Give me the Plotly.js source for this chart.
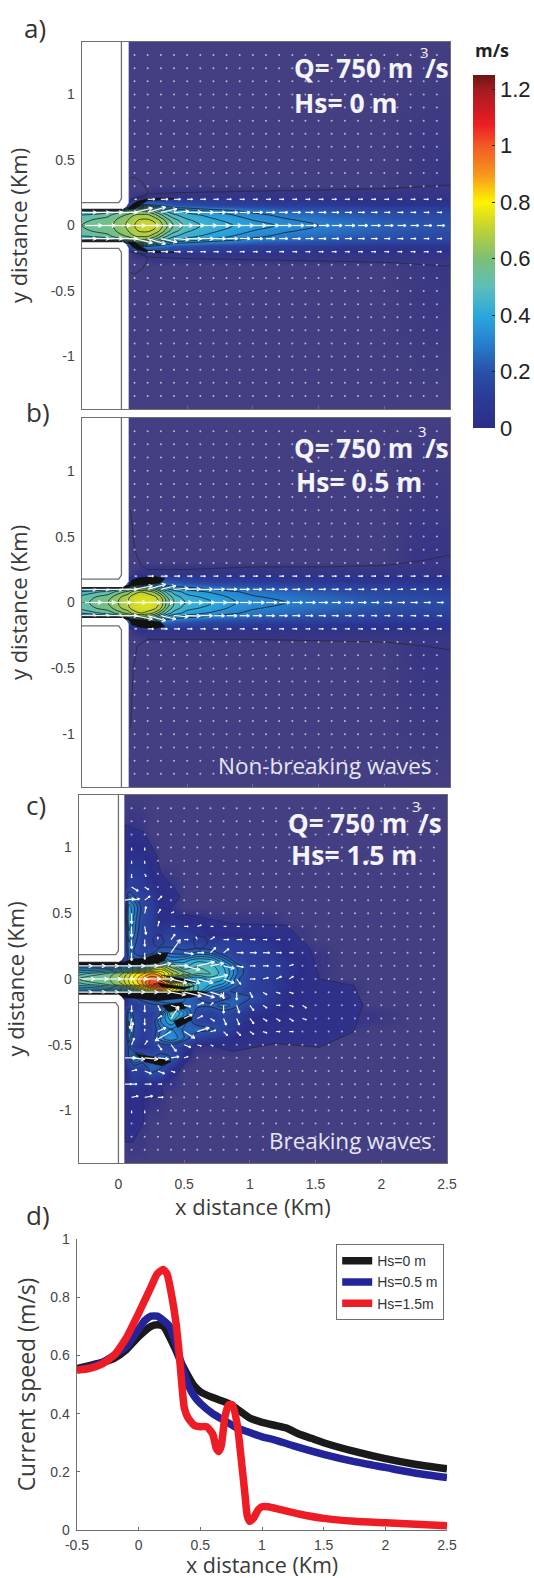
<!DOCTYPE html>
<html><head><meta charset="utf-8">
<script src="https://cdn.plot.ly/plotly-3.0.1.min.js"></script>
<style>html,body{margin:0;padding:0;background:#fff}</style></head>
<body><div id="chart"></div>
<script>
// ---------- panel d: current speed along the jet axis ----------
const blackX=[-.5,-.4,-.3,-.2,-.1,0,.1,.15,.2,.3,.35,.4,.45,.5,.6,.7,.75,.8,.9,1,1.1,1.2,1.3,1.4,1.5,1.75,2,2.25,2.5];
const blackY=[.555,.565,.575,.59,.62,.665,.70,.705,.70,.62,.57,.53,.495,.475,.455,.44,.43,.415,.385,.37,.36,.35,.33,.315,.30,.27,.245,.225,.21];
const blueX=[-.5,-.4,-.3,-.2,-.1,0,.05,.1,.15,.2,.25,.3,.35,.4,.45,.5,.6,.7,.8,.9,1,1.1,1.25,1.5,1.75,2,2.25,2.5];
const blueY=[.55,.56,.575,.60,.63,.69,.72,.735,.735,.72,.70,.64,.565,.50,.46,.435,.40,.375,.35,.335,.32,.31,.29,.26,.235,.215,.195,.18];
const redX=[-.5,-.4,-.3,-.2,-.1,0,.05,.1,.15,.2,.23,.27,.3,.33,.35,.37,.4,.45,.5,.55,.6,.63,.65,.67,.7,.73,.76,.8,.83,.86,.88,.9,.93,.97,1,1.05,1.15,1.3,1.5,1.75,2,2.5];
const redY=[.55,.555,.57,.60,.66,.745,.79,.835,.88,.895,.88,.80,.72,.60,.50,.42,.385,.36,.355,.355,.33,.28,.27,.29,.39,.43,.43,.36,.25,.13,.05,.03,.04,.07,.08,.08,.07,.055,.04,.03,.025,.015];
const legendNames=['Hs=0 m','Hs=0.5 m','Hs=1.5m'];

// ---------- speed fields (cm/s), grids in km ----------
const jetX=[-.3,-.1,.05,.1,.15,.2,.25,.3,.35,.4,.5,.6,.7,.85,1,1.25,1.5,1.75,2,2.25,2.5];
const jetHalfY=[0,.04,.08,.11,.13,.16,.2,.21,.27,.31,1.4];
const fieldA=[
[55,58,66,70,72,73,72,67,60,54,48,45,43,40,37,34,30,27,24,22,20],
[54,57,65,69,71,71,69,64,57,52,46,43,41,38,35,31,28,25,22,20,18],
[50,54,61,65,66,66,62,56,50,46,42,40,38,35,32,28,25,22,20,18,16],
[42,46,55,58,60,58,54,48,44,41,38,36,34,31,28,25,22,19,17,15,14],
[0,0,40,48,50,48,44,40,36,33,31,29,27,25,22,19,17,15,13,12,11],
[0,0,12,25,30,30,28,26,24,21,19,17,15,13,12,11,10,9,8,8,8],
[0,0,2,10,14,14,12,12,12,10,10,10,10,9,9,8,8,7,7,7,7],
[0,0,0,4,5,4,4,4,4,4,4,4,4,4,4,4,4,4,4,4,4],
[0,0,0,0,0,1,3,3,3,3,3,3,3,3,3,3,3,3,3,3,3],
[0,0,0,0,0,0,0,0,0,0,0,0,0,0,0,0,0,0,0,2,3],
[0,0,0,0,0,0,0,0,0,0,0,0,0,0,0,0,0,0,0,0,0]];
const fieldB=[
[53,60,70,74,75,75,74,68,58,50,44,42,40,36,33,30,27,24,21,19,17],
[52,58,69,73,74,74,72,66,55,48,42,40,38,34,31,28,25,22,19,17,15],
[46,52,62,68,70,68,64,56,48,43,38,36,34,31,28,25,22,19,16,14,12],
[34,40,50,55,58,56,52,44,38,35,32,30,28,25,23,20,17,15,13,12,11],
[0,0,30,40,44,44,40,34,30,27,25,23,21,19,17,15,14,12,11,10,9],
[0,0,8,20,28,28,26,22,20,18,15,13,12,11,10,9,9,8,8,8,8],
[0,0,2,8,10,11,10,9,9,9,9,9,9,8,8,8,8,8,7,7,7],
[0,0,0,4,5,4,4,4,4,4,4,4,4,4,4,4,4,4,4,4,4],
[0,0,0,0,1,3,3,3,3,3,3,3,3,3,3,3,3,3,3,3,3],
[0,0,0,0,0,0,0,0,0,0,0,0,0,0,0,0,0,0,0,3,3],
[0,0,0,0,0,0,0,0,0,0,0,0,0,0,0,0,0,0,0,0,0]];
const fieldCX=[-.3,-.1,.03,.08,.12,.18,.25,.32,.4,.5,.6,.7,.8,.9,1,1.15,1.3,1.5,1.7,1.9,2.2,2.5];
const fieldCY=[1.4,1.1,.9,.7,.55,.45,.35,.28,.2,.14,.09,.04,0,-.04,-.09,-.14,-.2,-.26,-.32,-.38,-.45,-.52,-.6,-.68,-.8,-.9,-1.1,-1.4];
const fieldC=[
[0,0,0,0,0,0,0,0,0,0,0,0,0,0,0,0,0,0,0,0,0,0],
[0,0,0,4,4,3,0,0,0,0,0,0,0,0,0,0,0,0,0,0,0,0],
[0,0,0,8,8,8,5,0,0,0,0,0,0,0,0,0,0,0,0,0,0,0],
[0,0,0,14,12,10,8,5,4,0,0,0,0,0,0,0,0,0,0,0,0,0],
[0,0,0,38,30,18,12,6,4,0,0,0,0,0,0,0,0,0,0,0,0,0],
[0,0,0,40,28,16,12,5,8,6,6,4,3,3,3,3,0,0,0,0,0,0],
[0,0,0,34,26,14,12,10,12,10,8,5,4,4,3,3,3,0,0,0,0,0],
[0,0,0,30,22,14,12,14,16,14,12,10,12,12,10,8,4,0,0,0,0,0],
[0,0,0,28,20,16,18,26,24,22,26,24,16,12,12,10,5,3,0,0,0,0],
[0,0,8,25,28,25,40,45,35,38,44,42,30,16,12,10,8,3,0,0,0,0],
[30,30,35,40,45,50,60,70,60,45,50,48,40,25,14,12,8,3,0,0,0,0],
[48,55,65,72,78,84,90,85,72,60,50,50,42,26,14,12,8,3,0,0,0,0],
[55,57,68,76,82,90,100,95,55,40,35,42,40,22,12,10,6,3,0,0,0,0],
[48,55,65,74,80,88,104,108,90,60,45,40,34,22,13,11,7,3,3,0,0,0],
[30,30,35,42,50,60,75,85,75,60,45,30,22,18,12,10,6,4,3,0,0,0],
[0,0,0,8,20,25,30,32,28,26,20,14,16,24,20,10,6,4,3,0,0,0],
[0,0,0,14,10,14,18,20,24,24,22,22,28,22,12,8,5,3,3,0,0,0],
[0,0,0,28,16,12,12,20,50,35,16,12,16,12,8,6,4,3,3,3,0,0],
[0,0,0,30,20,12,14,30,40,28,14,12,16,10,6,4,3,3,3,3,0,0],
[0,0,0,32,20,10,14,25,30,24,25,22,14,8,5,3,3,3,3,0,0,0],
[0,0,0,28,16,10,14,28,35,25,12,10,8,5,3,3,3,3,0,0,0,0],
[0,0,0,22,10,8,10,14,14,8,3,3,3,3,0,0,0,0,0,0,0,0],
[0,0,0,20,35,28,20,24,20,6,0,0,0,0,0,0,0,0,0,0,0,0],
[0,0,0,10,14,12,25,20,8,0,0,0,0,0,0,0,0,0,0,0,0,0],
[0,0,0,8,10,7,5,4,3,0,0,0,0,0,0,0,0,0,0,0,0,0],
[0,0,0,5,5,6,4,3,0,0,0,0,0,0,0,0,0,0,0,0,0,0],
[0,0,0,4,3,3,0,0,0,0,0,0,0,0,0,0,0,0,0,0,0,0],
[0,0,0,0,0,0,0,0,0,0,0,0,0,0,0,0,0,0,0,0,0,0]];

// ---------- velocity vectors ----------
const dotX=[.1,.2,.3,.4,.5,.6,.7,.8,.9,1,1.1,1.2,1.3,1.4,1.5,1.6,1.7,1.8,1.9,2,2.1,2.2,2.3,2.4];
const dotY=[1.3,1.2,1.1,1,.9,.8,.7,.6,.5,.4,.3,.2,.1,0,-.1,-.2,-.3,-.4,-.5,-.6,-.7,-.8,-.9,-1,-1.1,-1.2,-1.3];
const jetArrowX=[-.3,-.2,-.1,0,.1,.2,.3,.4,.5,.6,.7,.8,.9,1,1.1,1.2,1.3,1.4,1.5,1.6,1.7,1.8,1.9,2,2.1,2.2,2.3,2.4];
const axisSpeedA=[.56,.57,.62,.67,.7,.7,.62,.53,.475,.455,.44,.415,.385,.37,.36,.35,.33,.315,.3,.29,.28,.27,.26,.25,.24,.23,.225,.22];
const midSpeedA=[.4,.4,.4,.45,.5,.5,.45,.42,.4,.37,.34,.31,.29,.27,.25,.24,.23,.22,.21,.2,.19,.18,.17,.16,.16,.15,.15,.14];
const midLiftA=[0,0,0,0,.12,.15,.1,.03,.01,0,0,0,0,0,0,0,0,0,0,0,0,0,0,0,0,0,0,0];
const edgeSpeedA=[0,0,0,0,.05,.2,.2,.18,.15,.15,.14,.13,.13,.13,.13,.13,.13,.13,.13,.13,.13,.13,.13,.13,.13,.13,.13,.13];
const axisSpeedB=[.55,.57,.63,.69,.73,.72,.64,.5,.435,.4,.375,.35,.335,.32,.31,.3,.29,.28,.26,.25,.24,.23,.22,.215,.205,.195,.19,.185];
const midSpeedB=[.4,.4,.4,.45,.5,.5,.42,.4,.37,.34,.31,.29,.27,.25,.24,.23,.22,.21,.2,.19,.18,.17,.16,.16,.15,.15,.14,.14];
const midLiftB=[0,0,0,0,.1,.14,.1,.03,.01,0,0,0,0,0,0,0,0,0,0,0,0,0,0,0,0,0,0,0];
const edgeSpeedB=[0,0,0,0,.05,.16,.18,.16,.14,.14,.13,.13,.13,.13,.13,.13,.13,.13,.13,.13,.13,.13,.13,.13,.13,.13,.13,.13];
// [x, y, dx, dy] in km for panel c
const arrowsC=[
[.05,.6,.07,.01],[.1,.6,.06,.01],[.2,.6,.04,.03],[.3,.6,.03,.03],[.1,.7,.05,-.03],[.2,.7,.03,-.02],[.1,.8,0,-.03],[.2,.8,.01,-.02],[.1,.9,0,-.02],[.2,.9,0,-.02],[.1,1,0,-.02],[.2,1,0,-.02],
[.1,.5,0,-.08],[.2,.5,.01,.05],[.3,.5,.02,.03],[.4,.5,.02,.01],
[.1,.4,0,-.08],[.2,.4,.01,-.06],[.3,.4,.01,.04],[.4,.4,.03,0],[.5,.4,.03,0],[.6,.4,.03,.01],[.7,.4,.02,0],[.8,.4,.02,0],[.9,.4,.02,0],
[.1,.3,0,-.07],[.2,.3,0,-.05],[.3,.3,0,.02],[.4,.3,.03,.04],[.5,.3,.03,0],[.6,.3,-.01,.02],[.7,.3,.03,.02],[.8,.3,.04,0],[.9,.3,.04,0],[1,.3,.04,0],[1.1,.3,.03,0],[1.2,.3,.03,0],
[.1,.2,0,-.06],[.2,.2,0,-.05],[.3,.2,.02,-.01],[.4,.2,.07,.1],[.5,.2,.07,-.01],[.6,.2,.05,0],[.7,.2,.04,.04],[.8,.2,.04,.03],[.9,.2,.05,0],[1,.2,.05,0],[1.1,.2,.05,0],[1.2,.2,.04,0],[1.3,.2,.03,0],
[-.3,.1,.1,0],[-.2,.1,.1,0],[-.1,.1,.1,0],[0,.1,.1,0],[.1,.1,.1,0],[.2,.1,.1,0],[.3,.1,.1,.02],[.4,.1,.13,0],[.5,.1,.12,-.03],[.6,.1,.13,.03],[.7,.1,.1,.02],[.8,.1,.08,-.02],[.9,.1,.05,-.01],[1,.1,.04,0],[1.1,.1,.04,0],[1.2,.1,.03,0],[1.3,.1,.03,.01],
[-.3,0,.12,0],[-.2,0,.12,0],[-.1,0,.12,0],[0,0,.12,0],[.1,0,.12,0],[.2,0,.12,0],[.3,0,.12,0],[.4,0,.12,-.03],[.5,0,.12,-.03],[.6,0,.12,-.03],[.7,0,.13,.03],[.8,0,.08,-.03],[.9,0,.03,-.04],[1,0,.04,0],[1.1,0,.04,.01],[1.2,0,.04,.02],[1.3,0,.03,.02],
[-.3,-.1,.1,0],[-.2,-.1,.1,0],[-.1,-.1,.1,0],[0,-.1,.1,0],[.1,-.1,.1,0],[.2,-.1,.1,0],[.3,-.1,.1,0],[.4,-.1,.11,-.02],[.5,-.1,.13,-.03],[.6,-.1,.13,-.04],[.7,-.1,.1,-.03],[.8,-.1,0,-.05],[.9,-.1,0,-.06],[1,-.1,.02,-.04],[1.1,-.1,.03,-.02],[1.2,-.1,.03,-.01],[1.3,-.1,.03,-.01],
[.1,-.2,0,-.05],[.2,-.2,0,-.05],[.3,-.2,.02,-.04],[.4,-.2,.06,-.02],[.5,-.2,.05,-.01],[.6,-.2,.05,.02],[.7,-.2,.02,.02],[.8,-.2,0,-.06],[.9,-.2,.02,-.06],[1,-.2,.03,-.04],[1.1,-.2,.03,-.02],[1.2,-.2,.03,0],[1.3,-.2,.03,-.01],[1.4,-.2,.03,-.02],
[.1,-.3,-.01,-.08],[.2,-.3,0,-.05],[.3,-.3,.03,.02],[.4,-.3,.06,.09],[.5,-.3,.06,.03],[.6,-.3,.04,.02],[.7,-.3,.03,-.02],[.8,-.3,.02,-.05],[.9,-.3,.02,-.05],[1,-.3,.03,-.04],[1.1,-.3,.03,-.02],[1.2,-.3,.03,-.02],[1.3,-.3,.03,-.02],[1.4,-.3,.03,-.01],
[.1,-.4,.01,.07],[.2,-.4,0,.02],[.3,-.4,.06,.03],[.4,-.4,-.12,-.07],[.5,-.4,.08,-.05],[.6,-.4,.09,.03],[.7,-.4,.04,.01],[.8,-.4,.03,-.03],[.9,-.4,.03,-.03],[1,-.4,.03,-.02],[1.1,-.4,.03,-.01],[1.2,-.4,.03,0],[1.3,-.4,.03,0],
[.1,-.5,.02,.05],[.2,-.5,.02,.03],[.3,-.5,.03,-.04],[.4,-.5,.04,-.05],[.5,-.5,.05,-.02],[.6,-.5,.03,-.01],[.7,-.5,.02,-.01],
[.05,-.6,.08,0],[.1,-.6,.1,-.01],[.2,-.6,.1,-.01],[.3,-.6,.08,-.01],[.4,-.6,.06,.01],[.5,-.6,.03,.01],
[.1,-.7,.04,.01],[.2,-.7,.05,-.02],[.3,-.7,.05,-.02],[.4,-.7,.03,-.01],
[.05,-.8,.05,0],[.1,-.8,.04,0],[.2,-.8,.05,0],[.3,-.8,.03,0],
[.1,-.9,.05,.01],[.2,-.9,.06,.01],[.3,-.9,.04,0],[.1,-1,0,-.02],[.2,-1,0,-.02]];

// ---------- contour outlines (km) ----------
const outlineAX=[.07,.1,.16,.2,.18,.1,.07,.2,.4,1,2,2.5];
const outlineAY=[.36,.37,.33,.26,.22,.2,.2,.24,.25,.26,.28,.31];
const outlineBupX=[.07,.1,.15,.2,.5,1,1.5,2,2.3,2.5];
const outlineBupY=[.7,.4,.28,.25,.25,.27,.27,.28,.32,.36];
const outlineBloX=[.07,.09,.12,.2,.5,1,1.5,2,2.3,2.5];
const outlineBloY=[-.95,-.5,-.33,-.28,-.28,-.28,-.29,-.3,-.33,-.36];
const outlineCX=[.05,.06,.19,.29,.32,.47,.34,.52,.87,1.28,1.46,1.53,1.79,1.86,1.79,1.53,1.2,.87,.67,.55,.55,.44,.32,.34,.19,.19,.11,.05];
const outlineCY=[1.17,1.17,1.12,.94,.81,.63,.46,.49,.42,.41,.23,0,-.05,-.2,-.4,-.52,-.49,-.55,-.5,-.5,-.58,-.73,-.76,-.89,-.91,-1.09,-1.24,-1.24];
const loopC=[[[.3,.35,.33,.29,.26,.27,.3],[.24,.28,.33,.34,.31,.26,.24]],[[.62,.68,.66,.6,.57,.58,.62],[.22,.27,.32,.33,.3,.25,.22]]];
// saturated (black) contour bunches
const blackA=[[.05,.08,.12,.2,.3,.42,.3,.2,.15,.1],[.125,.16,.185,.205,.21,.205,.195,.19,.16,.125]];
const blackB=[[.05,.08,.14,.25,.33,.3,.2,.1],[.125,.17,.19,.2,.18,.15,.135,.125]];
const blackC=[
[[-.3,.05,.1,.2,.3,.38,.35,.3,.2,.05,-.3],[.125,.13,.15,.16,.19,.2,.14,.12,.11,.105,.105]],
[[-.3,.1,.3,.6,.68,.55,.3,.1,-.3],[-.105,-.11,-.1,-.09,-.1,-.14,-.165,-.145,-.125]],
[[.3,.5,.58,.5,.33],[-.03,-.06,-.05,-.08,-.06]],
[[.33,.5,.6,.5],[.03,-.02,-.03,0]],
[[.33,.48,.52,.38],[-.2,-.18,-.22,-.25]],
[[.42,.55,.56,.45],[-.32,-.27,-.31,-.37]],
[[.13,.3,.4,.33,.2],[-.57,-.6,-.63,-.66,-.63]]];
// land / river mouth geometry: upper outer line, upper channel line, lower channel line, lower outer line
const mouthA={up:.175,chUp:.122,chLo:-.122,lo:-.175};
const mouthB={up:.178,chUp:.112,chLo:-.112,lo:-.178};
const mouthC={up:.185,chUp:.125,chLo:-.115,lo:-.18};

// ---------- layout constants ----------
const W=534,H=1578;
const boxes={a:[82,450,42,409],b:[82,450,418,787],c:[79,447,795,1163],d:[77,447,1239,1530]};
const yTicks=[-1,-.5,0,.5,1], xTicks=[0,.5,1,1.5,2,2.5];
const bg='#443f82', grey='#6f6f6f', txt='#3a3a3a';
const stops=[[0,'#2b2e88'],[.08,'#2b3a96'],[.16,'#2a50a8'],[.24,'#2680cf'],[.32,'#2aa8dc'],[.4,'#5cbfb8'],[.48,'#7cbf78'],[.56,'#bcd136'],[.64,'#fff200'],[.72,'#f7941d'],[.8,'#f15a24'],[.86,'#ed1c24'],[.96,'#a01c20'],[1,'#6d1414']];
const fieldScale=[[0,'rgba(43,46,136,0)'],[.048,'rgba(43,46,136,1)']].concat(stops.slice(1));

const mirror=(half)=>{const r=[];for(let i=half.length-1;i>0;i--)r.push(half[i]);return r.concat(half);};
const mirrorY=jetHalfY.slice(1).reverse().map(v=>-v).concat(jetHalfY);
const cm=(rows)=>rows.map(r=>r.map(v=>v/100));

function arrowInto(xs,ys,x,y,dx,dy){
  const L=Math.hypot(dx,dy); if(L<1e-6)return;
  const tx=x+dx,ty=y+dy,h=Math.min(.03,.3*L),a=Math.atan2(dy,dx);
  xs.push(x,tx,null,tx-h*Math.cos(a-.5),tx,tx-h*Math.cos(a+.5),null);
  ys.push(y,ty,null,ty-h*Math.sin(a-.5),ty,ty-h*Math.sin(a+.5),null);
}
const traces=[],shapes=[],annos=[];
const pathOf=(X,Y,close)=>X.map((v,i)=>(i?'L':'M')+v+','+Y[i]).join(' ')+(close?' Z':'');

function fieldTraces(ax,ay,gx,gy,z,start,w){
  traces.push({type:'heatmap',x:gx,y:gy,z:z,xaxis:ax,yaxis:ay,zmin:0,zmax:1.25,zsmooth:'best',colorscale:fieldScale,showscale:false,hoverinfo:'skip'});
  traces.push({type:'contour',x:gx,y:gy,z:z,xaxis:ax,yaxis:ay,showscale:false,showlegend:false,hoverinfo:'skip',autocontour:false,
    contours:{start:start,end:1.2,size:.05,coloring:'none'},line:{color:'#1c1c1c',width:w,smoothing:1}});
}
function outline(ax,ay,X,Y){traces.push({type:'scatter',mode:'lines',x:X,y:Y,xaxis:ax,yaxis:ay,line:{color:'#2a2a40',width:.9},showlegend:false,hoverinfo:'skip'});}
function patch(ax,ay,X,Y){traces.push({type:'scatter',mode:'lines',fill:'toself',fillcolor:'#111',x:X.concat(X[0]),y:Y.concat(Y[0]),xaxis:ax,yaxis:ay,line:{color:'#111',width:.5},showlegend:false,hoverinfo:'skip'});}
function vectors(ax,ay,ax_,ay_,dotsX,dotsY){
  traces.push({type:'scatter',mode:'markers',x:dotsX,y:dotsY,xaxis:ax,yaxis:ay,marker:{size:2,color:'rgba(255,255,255,.62)'},showlegend:false,hoverinfo:'skip'});
  traces.push({type:'scatter',mode:'lines',x:ax_,y:ay_,xaxis:ax,yaxis:ay,line:{color:'rgba(255,255,255,.95)',width:1.2},showlegend:false,hoverinfo:'skip'});
}
function land(xr,yr,m,coast){
  const c={xref:xr,yref:yr,layer:'above'};
  shapes.push(Object.assign({type:'path',path:pathOf([-.3,coast,coast,coast-.02,coast-.05,-.3],[1.4,1.4,m.chUp+.05,m.chUp+.02,m.chUp,m.chUp],true),fillcolor:'#fff',line:{width:0}},c));
  shapes.push(Object.assign({type:'path',path:pathOf([-.3,coast,coast,coast-.02,coast-.05,-.3],[-1.4,-1.4,m.chLo-.05,m.chLo-.02,m.chLo,m.chLo],true),fillcolor:'#fff',line:{width:0}},c));
  const ln=(X,Y,d,col,w)=>shapes.push(Object.assign({type:'path',path:pathOf(X,Y),line:{color:col,width:w,dash:d}},c));
  ln([0,0,-.02,-.3],[1.4,m.up+.03,m.up,m.up],'solid',grey,1.3);
  ln([0,0,-.02,-.3],[-1.4,m.lo-.03,m.lo,m.lo],'solid',grey,1.3);
  ln([-.3,coast-.05],[m.chUp,m.chUp],'solid','#222',1.4);
  ln([-.3,coast-.05],[m.chLo,m.chLo],'solid','#222',1.4);
}
function backdrop(xr,yr){
  shapes.push({type:'rect',xref:xr,yref:yr,x0:-.3,x1:2.5,y0:-1.4,y1:1.4,fillcolor:bg,line:{width:0},layer:'below'});
}
function jetPanel(ax,ay,xr,yr,half,sp0,sp1,lift,sp2,mouth,extra){
  backdrop(xr,yr);
  fieldTraces(ax,ay,jetX,mirrorY,cm(mirror(half)),.3,.8);
  extra();
  const dx=[],dy=[];
  dotY.filter(y=>Math.abs(y)>.21).forEach(y=>dotX.forEach(x=>{dx.push(x);dy.push(y);}));
  const ax_=[],ay_=[],s=.27;
  jetArrowX.forEach((x,i)=>{
    arrowInto(ax_,ay_,x,0,sp0[i]*s,0);
    arrowInto(ax_,ay_,x,.1,sp1[i]*s,lift[i]*s);
    arrowInto(ax_,ay_,x,-.1,sp1[i]*s,-lift[i]*s);
    arrowInto(ax_,ay_,x,.2,sp2[i]*s,0);
    arrowInto(ax_,ay_,x,-.2,sp2[i]*s,0);
  });
  vectors(ax,ay,ax_,ay_,dx,dy);
  land(xr,yr,mouth,.055);
}
// panel a
jetPanel('x','y','x','y',fieldA,axisSpeedA,midSpeedA,midLiftA,edgeSpeedA,mouthA,()=>{
  outline('x','y',outlineAX,outlineAY); outline('x','y',outlineAX,outlineAY.map(v=>-v));
  patch('x','y',blackA[0],blackA[1]); patch('x','y',blackA[0],blackA[1].map(v=>-v));
});
// panel b
jetPanel('x2','y2','x2','y2',fieldB,axisSpeedB,midSpeedB,midLiftB,edgeSpeedB,mouthB,()=>{
  outline('x2','y2',outlineBupX,outlineBupY); outline('x2','y2',outlineBloX,outlineBloY);
  patch('x2','y2',blackB[0],blackB[1]); patch('x2','y2',blackB[0],blackB[1].map(v=>-v));
  patch('x2','y2',[-.3,.06,.06,-.3],[.105,.115,.125,.125]); patch('x2','y2',[-.3,.06,.06,-.3],[-.105,-.115,-.125,-.125]);
});
// panel c
backdrop('x3','y3');
shapes.push({type:'path',xref:'x3',yref:'y3',layer:'below',path:pathOf(outlineCX,outlineCY,true),fillcolor:'#33338c',line:{color:'#2a2a40',width:1}});
fieldTraces('x3','y3',fieldCX,fieldCY.slice().reverse(),cm(fieldC).reverse(),.2,.7);
loopC.forEach(l=>outline('x3','y3',l[0],l[1]));
blackC.forEach(p=>patch('x3','y3',p[0],p[1]));
{
  const seen=new Set(arrowsC.map(a=>a[0].toFixed(2)+'_'+a[1].toFixed(2)));
  const dx=[],dy=[],ax_=[],ay_=[];
  dotY.forEach(y=>dotX.forEach(x=>{if(!seen.has(x.toFixed(2)+'_'+y.toFixed(2))){dx.push(x);dy.push(y);}}));
  arrowsC.forEach(a=>arrowInto(ax_,ay_,a[0],a[1],a[2],a[3]));
  vectors('x3','y3',ax_,ay_,dx,dy);
}
land('x3','y3',mouthC,.045);

// panel d
[[blackX,blackY,'#1a1a1a'],[blueX,blueY,'#23249a'],[redX,redY,'#ee1c25']].forEach((s,i)=>{
  traces.push({type:'scatter',mode:'lines',name:legendNames[i],x:s[0],y:s[1],xaxis:'x4',yaxis:'y4',line:{color:s[2],width:7.5,shape:'spline',smoothing:.5},hoverinfo:'skip'});
});
// colour bar carrier (off-range point)
traces.push({type:'scatter',mode:'markers',x:[-9],y:[-9],xaxis:'x4',yaxis:'y4',showlegend:false,hoverinfo:'skip',
  marker:{color:[0],cmin:0,cmax:1.25,colorscale:stops,opacity:0,showscale:true,
    colorbar:{thickness:22,thicknessmode:'pixels',len:353,lenmode:'pixels',x:473/W,xanchor:'left',xpad:0,y:1-428/H,yanchor:'bottom',ypad:0,
      tickmode:'array',tickvals:[0,.2,.4,.6,.8,1,1.2],ticktext:['0','0.2','0.4','0.6','0.8','1','1.2'],ticks:'inside',ticklen:3,tickcolor:'#222',
      tickfont:{family:'Liberation Sans',size:22,color:'#222'},outlinewidth:0}}});

const A=(x,y,t,size,bold,col,fam)=>annos.push({xref:'paper',yref:'paper',x:x/W,y:1-y/H,xanchor:'left',yanchor:'middle',showarrow:false,text:bold?'<b>'+t+'</b>':t,font:{family:fam||'Open Sans',size:size,color:col}});
A(22,28,'a)',26,false,'#333'); A(24,412,'b)',26,false,'#333'); A(24,805,'c)',26,false,'#333'); A(24,1215,'d)',26,false,'#333');
A(473,50,'m/s',18,true,'#222');
const wh='#f4f4fa';
[[292,68,'Q= 750 m',418,52,'/s',423],[292,448,'Q= 750 m',416,431,'/s',423],[286,823,'Q= 750 m',410,806,'/s',416]].forEach(q=>{
  A(q[0],q[1],q[2],26,true,wh); A(q[3],q[4],'3',15,false,wh); A(q[6],q[1],q[5],26,true,wh);
});
A(292,103,'Hs= 0 m',26.5,true,wh); A(294,482,'Hs= 0.5 m',26.5,true,wh); A(289,855,'Hs= 1.5 m',26.5,true,wh);
A(216,765,'Non-breaking waves',22.5,false,'#e6e6f2'); A(267,1140,'Breaking waves',22.5,false,'#e6e6f2');
A(173,1206,'x distance (Km)',22,false,txt);
A(184,1564,'x distance (Km)',21.5,false,txt);

const tf={family:'Liberation Sans',size:14,color:'#444'};
const titleF={family:'Open Sans',size:22,color:txt};
function axes(k,showX,yTitle){
  const b=boxes[k],i={a:'',b:'2',c:'3',d:'4'}[k];
  const isD=k==='d';
  const xa={domain:[b[0]/W,b[1]/W],anchor:'y'+i,range:isD?[-.5,2.5]:[-.3,2.5],tickmode:'array',tickvals:isD?[-.5].concat(xTicks):xTicks,ticktext:isD?['-0.5','0','0.5','1','1.5','2','2.5']:['0','0.5','1','1.5','2','2.5'],
    ticks:'inside',ticklen:3,tickcolor:grey,showticklabels:showX,tickfont:tf,showline:true,linecolor:grey,linewidth:1.4,mirror:!isD,showgrid:false,zeroline:false,fixedrange:true,ticklabelstandoff:isD?2:8};
  const ya={domain:[1-b[3]/H,1-b[2]/H],anchor:'x'+i,range:isD?[0,1]:[-1.4,1.4],tickmode:'array',tickvals:isD?[0,.2,.4,.6,.8,1]:yTicks,ticktext:isD?['0','0.2','0.4','0.6','0.8','1']:['-1','-0.5','0','0.5','1'],
    ticks:'inside',ticklen:3,tickcolor:grey,showticklabels:true,tickfont:tf,showline:true,linecolor:grey,linewidth:1.4,mirror:!isD,showgrid:false,zeroline:false,fixedrange:true,ticklabelstandoff:3,
    title:{text:yTitle,font:isD?{family:'Open Sans',size:23,color:txt}:titleF,standoff:isD?8:17}};
  return [xa,ya,i];
}
const layout={width:W,height:H,margin:{l:0,r:0,t:0,b:0},paper_bgcolor:'#fff',plot_bgcolor:'#fff',shapes:shapes,annotations:annos,
  legend:{x:336/W,y:1-1244/H,xanchor:'left',yanchor:'top',bgcolor:'#fff',bordercolor:grey,borderwidth:1.2,font:{family:'Liberation Sans',size:14,color:'#333'},itemwidth:30,tracegroupgap:0}};
[['a',false,'y distance (Km)'],['b',false,'y distance (Km)'],['c',true,'y distance (Km)'],['d',true,'Current speed (m/s)']].forEach(p=>{
  const r=axes(p[0],p[1],p[2]); layout['xaxis'+r[2]]=r[0]; layout['yaxis'+r[2]]=r[1];
});
Plotly.newPlot('chart',traces,layout,{displayModeBar:false,staticPlot:true});
</script></body></html>
